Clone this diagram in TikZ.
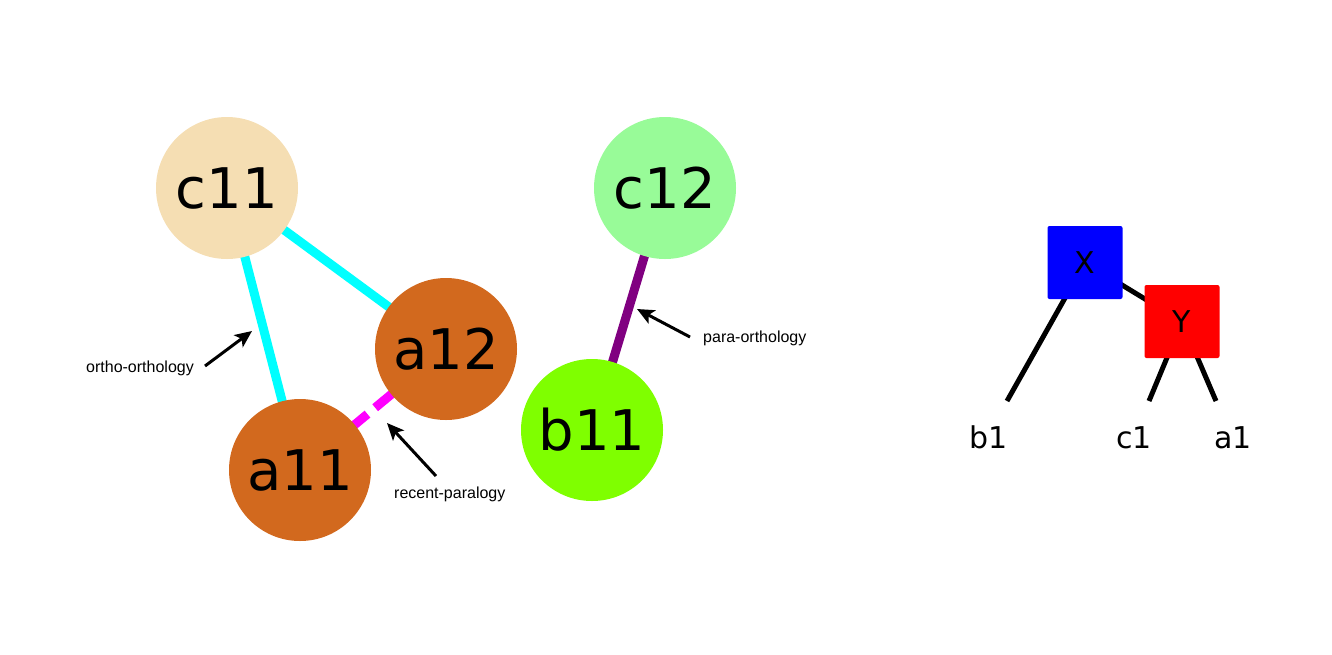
\documentclass[tikz,border=0pt]{standalone}
\usepackage{fontspec}
\setmainfont{DejaVu Sans}
\newfontfamily\annfont{Liberation Sans}
\usetikzlibrary{arrows.meta,backgrounds}
\definecolor{cwheat}{HTML}{F5DEB3}
\definecolor{cpalegreen}{HTML}{98FB98}
\definecolor{cchoc}{HTML}{D2691E}
\definecolor{cchart}{HTML}{7FFF00}
\definecolor{ccyan}{HTML}{00FFFF}
\definecolor{cmag}{HTML}{FF00FF}
\definecolor{cpurple}{HTML}{800080}
\begin{document}
\begin{tikzpicture}[x=1pt,y=-1pt,
  gnode/.style={circle,minimum size=142pt,inner sep=0pt,font=\fontsize{56}{56}\selectfont},
  orthoedge/.style={draw=ccyan,line width=9pt},
  paraedge/.style={draw=cmag,line width=9pt,dash pattern=on 24pt off 10pt},
  poedge/.style={draw=cpurple,line width=9pt},
  annlabel/.style={font=\annfont\fontsize{16}{16}\selectfont,anchor=base west,inner sep=0pt},
  annarrow/.style={line width=3pt,-{Stealth[length=17pt,width=15pt,inset=4pt]}},
  treebox/.style={minimum width=75pt,minimum height=73pt,inner sep=0pt,rounded corners=2pt,font=\fontsize{30}{30}\selectfont},
  treeline/.style={line width=5pt},
  leaflabel/.style={font=\fontsize{30}{30}\selectfont,anchor=base west,inner sep=0pt}]
\useasboundingbox (0,0) rectangle (1332,654);

% graph nodes
\node[gnode,fill=cwheat] (c11) at (227,188) {c11};
\node[gnode,fill=cpalegreen] (c12) at (665,188) {c12};
\node[gnode,fill=cchoc] (a12) at (446,349) {a12};
\node[gnode,fill=cchoc] (a11) at (300,470) {a11};
\node[gnode,fill=cchart] (b11) at (592,430) {b11};

\begin{scope}[on background layer]
  \draw[orthoedge] (c11.center) -- (a12.center);
  \draw[orthoedge] (c11.center) -- (a11.center);
  \draw[paraedge] (a12.center) -- (a11.center);
  \draw[poedge] (c12.center) -- (b11.center);
\end{scope}

% annotations
\node[annlabel] (l1) at (86,372) {ortho-orthology};
\node[annlabel] (l2) at (394,498) {recent-paralogy};
\node[annlabel] (l3) at (703,342) {para-orthology};
\coordinate (s1) at (205,366);
\coordinate (t1) at (252,331);
\coordinate (s2) at (436,476);
\coordinate (t2) at (387,423);
\coordinate (s3) at (690,337);
\coordinate (t3) at (637,309);
\draw[annarrow] (s1) -- (t1);
\draw[annarrow] (s2) -- (t2);
\draw[annarrow] (s3) -- (t3);

% tree
\node[treebox,fill=blue] (X) at (1085,262.5) {X};
\node[treebox,fill=red] (Y) at (1182,321.5) {Y};
\coordinate (b1e) at (1007,401);
\coordinate (c1e) at (1149,401);
\coordinate (a1e) at (1216,401);
\begin{scope}[on background layer]
  \draw[treeline] (X.center) -- (Y.center);
  \draw[treeline] (X.center) -- (b1e);
  \draw[treeline] (Y.center) -- (c1e);
  \draw[treeline] (Y.center) -- (a1e);
\end{scope}
\node[leaflabel] (b1) at (969,448) {b1};
\node[leaflabel] (c1) at (1116,448) {c1};
\node[leaflabel] (a1) at (1214,448) {a1};
\end{tikzpicture}
\end{document}
